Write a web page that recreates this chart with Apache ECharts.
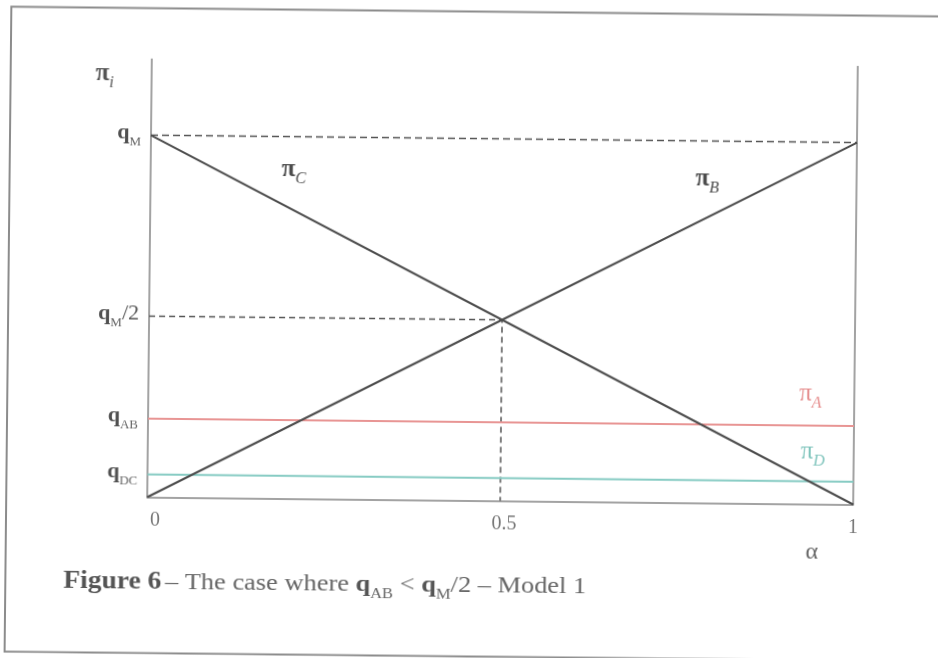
<!DOCTYPE html>
<html>
<head>
<meta charset="utf-8">
<script src="https://cdn.jsdelivr.net/npm/echarts@6/dist/echarts.min.js"></script>
<style>
  html, body { margin: 0; padding: 0; background: #fff; }
  #chart { width: 938px; height: 658px; transform: rotate(0.6deg); transform-origin: 50% 50%; }
</style>
</head>
<body>
<div id="chart"></div>
<script>
// Payoffs against the sharing parameter alpha (qM normalised to 1)
const alpha = [0, 0.5, 1];
const piB = [0, 0.5, 1];
const piC = [1, 0.5, 0];
const qM = 1;
const qAB = 0.217;
const qDC = 0.063;

// Axis ticks and their labels
const yTickValues = [qDC, qAB, qM / 2, qM];
const yTickLabels = ['{q|q}{s|DC}', '{q|q}{s|AB}', '{q|q}{s|M}{n|/2}', '{q|q}{s|M}'];
const xTickValues = [0, 0.5, 1];
const xTickLabels = ['{z|0}', '{h|0.5}', '{o|1}'];

const SERIF = '"Liberation Serif", "Times New Roman", serif';
const INK = '#4d4d4d';
const AXIS = '#858585';

const pts = (xs, ys) => xs.map((x, i) => [x, ys[i]]);
const flat = (v) => [[alpha[0], v], [alpha[alpha.length - 1], v]];

function labelFor(values, labels, v) {
  let best = 0;
  values.forEach((t, i) => { if (Math.abs(t - v) < Math.abs(values[best] - v)) best = i; });
  return labels[best];
}

const chart = echarts.init(document.getElementById('chart'), null, { renderer: 'canvas' });

const yRich = {
  q: { fontFamily: SERIF, fontSize: 22, fontWeight: 'bold', color: '#505050', verticalAlign: 'bottom', padding: [0, 0, 5, 0] },
  s: { fontFamily: SERIF, fontSize: 13, color: '#666', verticalAlign: 'bottom' },
  n: { fontFamily: SERIF, fontSize: 22, color: '#555', verticalAlign: 'bottom', padding: [0, 0, 5, 0] }
};

// graphic text uses `fill` for rich tokens
const piRich = (col, bold) => ({
  p: { fontFamily: SERIF, fontSize: 25, fontWeight: bold ? 'bold' : 'normal', fill: col, verticalAlign: 'bottom', padding: [0, 0, 5, 0] },
  s: { fontFamily: SERIF, fontSize: 16, fontStyle: 'italic', fill: col, verticalAlign: 'bottom' }
});

const option = {
  animation: false,
  backgroundColor: '#ffffff',
  grid: { left: 149, right: 83, top: 62.5, bottom: 157.5 },
  xAxis: {
    type: 'value', min: 0, max: 1,
    axisLine: { show: true, lineStyle: { color: AXIS, width: 1.5 } },
    axisTick: { show: false },
    splitLine: { show: false },
    axisLabel: {
      customValues: xTickValues,
      margin: 13,
      formatter: (v) => labelFor(xTickValues, xTickLabels, v),
      rich: {
        z: { fontFamily: SERIF, fontSize: 20, color: '#777', padding: [0, 0, 0, 16] },
        h: { fontFamily: SERIF, fontSize: 20, color: '#777', padding: [0, 0, 0, 8] },
        o: { fontFamily: SERIF, fontSize: 20, color: '#777' }
      }
    }
  },
  yAxis: [{
    type: 'value', min: 0, max: 1.21,
    axisLine: { show: true, lineStyle: { color: AXIS, width: 1.5 } },
    axisTick: { show: false },
    splitLine: { show: false },
    axisLabel: {
      customValues: yTickValues,
      margin: 10,
      formatter: (v) => labelFor(yTickValues, yTickLabels, v),
      rich: yRich
    }
  }, {
    type: 'value', min: 0, max: 1.21, position: 'right',
    axisLine: { show: true, lineStyle: { color: AXIS, width: 1.5 } },
    axisTick: { show: false }, axisLabel: { show: false }, splitLine: { show: false }
  }],
  series: [
    { name: 'qM guide', type: 'line', data: flat(qM), symbol: 'none', silent: true,
      lineStyle: { color: '#555', width: 1.5, type: [7, 4] } },
    { name: 'half guide', type: 'line', data: [[0, qM / 2], [0.5, qM / 2], [0.5, 0]], symbol: 'none', silent: true,
      lineStyle: { color: '#555', width: 1.5, type: [6, 4] } },
    { name: 'πA', type: 'line', data: flat(qAB), symbol: 'none',
      lineStyle: { color: '#e89594', width: 2 } },
    { name: 'πD', type: 'line', data: flat(qDC), symbol: 'none',
      lineStyle: { color: '#86cbc3', width: 2 } },
    { name: 'πC', type: 'line', data: pts(alpha, piC), symbol: 'none',
      lineStyle: { color: INK, width: 2 } },
    { name: 'πB', type: 'line', data: pts(alpha, piB), symbol: 'none',
      lineStyle: { color: INK, width: 2 } }
  ],
  graphic: [
    { type: 'rect', shape: { x: 8, y: 11.5, width: 960, height: 645 }, silent: true,
      style: { fill: 'none', stroke: '#8c8c8c', lineWidth: 2 } },
    { type: 'text', x: 93, y: 95, silent: true,
      style: { text: '{p|π}{s|i}', rich: piRich('#555', true), align: 'left', verticalAlign: 'bottom' } },
    { type: 'text', x: 280, y: 189, silent: true,
      style: { text: '{p|π}{s|C}', rich: piRich('#4d4d4d', true), align: 'left', verticalAlign: 'bottom' } },
    { type: 'text', x: 694, y: 194, silent: true,
      style: { text: '{p|π}{s|B}', rich: piRich('#4d4d4d', true), align: 'left', verticalAlign: 'bottom' } },
    { type: 'text', x: 800, y: 408, silent: true,
      style: { text: '{p|π}{s|A}', rich: piRich('#e58c8c', false), align: 'left', verticalAlign: 'bottom' } },
    { type: 'text', x: 802, y: 466, silent: true,
      style: { text: '{p|π}{s|D}', rich: piRich('#7fc4bc', false), align: 'left', verticalAlign: 'bottom' } },
    { type: 'text', x: 814, y: 549, silent: true,
      style: { text: 'α', font: '24px ' + SERIF, fill: '#666', align: 'center', verticalAlign: 'middle' } },
    { type: 'text', x: 66, y: 603, scaleX: 1.1, silent: true,
      style: {
        text: '{b|Figure 6} {r|– The case where }{q|q}{s|AB}{r| < }{q|q}{s|M}{r|/2 – Model 1}',
        align: 'left', verticalAlign: 'bottom',
        rich: {
          b: { fontFamily: SERIF, fontSize: 25, fontWeight: 'bold', fill: '#555', verticalAlign: 'bottom', padding: [0, 0, 5, 0] },
          r: { fontFamily: SERIF, fontSize: 24, fill: '#666', verticalAlign: 'bottom', padding: [0, 0, 5, 0] },
          q: { fontFamily: SERIF, fontSize: 24, fontWeight: 'bold', fill: '#555', verticalAlign: 'bottom', padding: [0, 0, 5, 0] },
          s: { fontFamily: SERIF, fontSize: 15, fill: '#666', verticalAlign: 'bottom' }
        }
      } }
  ]
};

chart.setOption(option);
</script>
</body>
</html>
